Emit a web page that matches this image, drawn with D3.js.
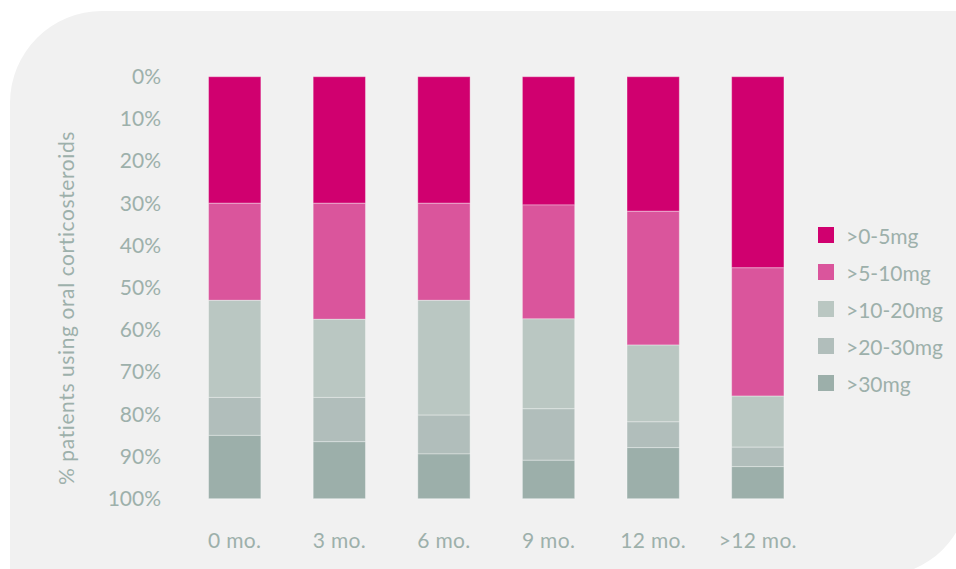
<!DOCTYPE html>
<html>
<head>
<meta charset="utf-8">
<script src="https://cdn.jsdelivr.net/npm/d3@7"></script>
<style>
  html, body { margin: 0; padding: 0; background: #ffffff; }
  svg { display: block; font-family: Lato, "Open Sans", sans-serif; }
</style>
</head>
<body>
<svg id="chart" width="956" height="569"></svg>
<script>
// Time points since start of treatment
const periods = ["0 mo.", "3 mo.", "6 mo.", "9 mo.", "12 mo.", ">12 mo."];

// Dose groups, stacked from the top of each bar downwards
const doses = [">0-5mg", ">5-10mg", ">10-20mg", ">20-30mg", ">30mg"];

// Share of patients (%) in each dose group per time point
const dose0to5   = [30.0, 30.0, 30.0, 30.4, 31.9, 45.3];
const dose5to10  = [23.0, 27.5, 23.0, 27.0, 31.7, 30.4];
const dose10to20 = [23.0, 18.5, 27.2, 21.3, 18.2, 12.1];
const dose20to30 = [ 9.0, 10.5,  9.2, 12.2,  6.1,  4.6];
const dose30plus = [15.0, 13.5, 10.6,  9.1, 12.1,  7.6];

const yTicks = [0, 10, 20, 30, 40, 50, 60, 70, 80, 90, 100];

const colors = ["#D0006F", "#DA559C", "#BAC7C2", "#B1BEBB", "#9CAFAA"];
const textColor = "#9DB0AB";
const fontSize = "21px";

const series = [dose0to5, dose5to10, dose10to20, dose20to30, dose30plus];
const rows = periods.map((p, i) => {
  const r = { period: p };
  doses.forEach((d, k) => { r[d] = series[k][i]; });
  return r;
});

const svg = d3.select("#chart");

// Panel with rounded top-left and bottom-right corners
const L = 10, T = 11, R = 969, B = 576, r1 = 92, r2 = 90;
svg.append("path")
  .attr("d", `M${L},${T + r1} A${r1},${r1} 0 0 1 ${L + r1},${T} L${R},${T} L${R},${B - r2}
              A${r2},${r2} 0 0 1 ${R - r2},${B} L${L},${B} Z`)
  .attr("fill", "#F1F1F1");

const x = d3.scaleBand().domain(periods).range([182.4, 810.1])
  .paddingInner(0.5).paddingOuter(0.25);
const y = d3.scaleLinear().domain([0, 100]).range([76.7, 498.7]);

const stacked = d3.stack().keys(doses)(rows);

svg.append("g").selectAll("g")
  .data(stacked)
  .join("g")
  .attr("fill", (d, i) => colors[i])
  .selectAll("rect")
  .data(d => d)
  .join("rect")
  .attr("x", d => x(d.data.period))
  .attr("width", x.bandwidth())
  .attr("y", d => y(d[0]))
  .attr("height", d => y(d[1]) - y(d[0]))
  .attr("stroke", "#ffffff")
  .attr("stroke-opacity", 0.35)
  .attr("stroke-width", 1);

// Y axis (labels only)
const yAxis = d3.axisLeft(y).tickValues(yTicks).tickFormat(d => d + "%").tickSize(0).tickPadding(0);
const gy = svg.append("g").attr("transform", "translate(161,0)").call(yAxis);
gy.select(".domain").remove();
gy.selectAll("text")
  .attr("fill", textColor)
  .style("font-size", fontSize)
  .style("font-family", "Lato, 'Open Sans', sans-serif");

// X axis (labels only)
const xAxis = d3.axisBottom(x).tickSize(0).tickPadding(0);
const gx = svg.append("g").attr("transform", "translate(0,533)").call(xAxis);
gx.select(".domain").remove();
gx.selectAll("text")
  .attr("fill", textColor)
  .attr("dy", "0.71em")
  .style("font-size", fontSize)
  .style("letter-spacing", "0.3px")
  .style("font-family", "Lato, 'Open Sans', sans-serif");

// Y axis title
svg.append("text")
  .attr("transform", "translate(65,308) rotate(-90)")
  .attr("text-anchor", "middle")
  .attr("dominant-baseline", "central")
  .attr("fill", textColor)
  .style("font-size", fontSize)
  .style("letter-spacing", "0.6px")
  .text("% patients using oral corticosteroids");

// Legend
const legend = svg.append("g").attr("transform", "translate(818,235)");
const item = legend.selectAll("g")
  .data(doses)
  .join("g")
  .attr("transform", (d, i) => `translate(0,${i * 37})`);
item.append("rect")
  .attr("x", 0).attr("y", -8)
  .attr("width", 16).attr("height", 16)
  .attr("fill", (d, i) => colors[i]);
item.append("text")
  .attr("x", 28)
  .attr("y", 0)
  .attr("dominant-baseline", "central")
  .attr("fill", textColor)
  .style("font-size", fontSize)
  .text(d => d);
</script>
</body>
</html>
